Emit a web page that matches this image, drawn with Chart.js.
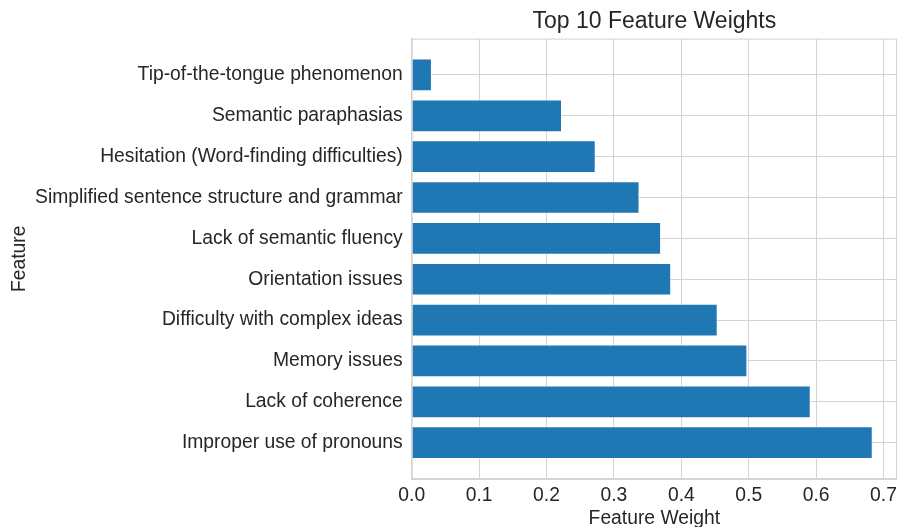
<!DOCTYPE html>
<html>
<head>
<meta charset="utf-8">
<script src="https://cdn.jsdelivr.net/npm/chart.js@4/dist/chart.umd.min.js"></script>
<style>
  html, body { margin: 0; padding: 0; background: #fff; }
  #wrap { width: 897px; height: 527px; }
</style>
</head>
<body>
<div id="wrap"><canvas id="chart" width="897" height="527"></canvas></div>
<script>
// features, bottom to top (matplotlib barh order)
const features = [
    'Improper use of pronouns',
    'Lack of coherence',
    'Memory issues',
    'Difficulty with complex ideas',
    'Orientation issues',
    'Lack of semantic fluency',
    'Simplified sentence structure and grammar',
    'Hesitation (Word-finding difficulties)',
    'Semantic paraphasias',
    'Tip-of-the-tongue phenomenon'
];
const weights = [0.684, 0.592, 0.498, 0.454, 0.385, 0.370, 0.338, 0.273, 0.223, 0.030];
const xTicks = [0, 0.1, 0.2, 0.3, 0.4, 0.5, 0.6, 0.7];

const textColor = '#262626';
const gridColor = '#d3d3d3';
const fontFamily = '"Liberation Sans", Arial, sans-serif';

const points = weights.map((w, i) => ({ x: w, y: i }));

// frame around the plot area, like the seaborn whitegrid axes
const framePlugin = {
    id: 'frame',
    afterDraw(c) {
        const a = c.chartArea;
        const g = c.ctx;
        g.save();
        g.strokeStyle = gridColor;
        g.lineWidth = 1;
        g.strokeRect(a.left + 0.5, a.top + 0.5, a.right - a.left - 1, a.bottom - a.top - 1);
        g.restore();
    }
};

const ctx = document.getElementById('chart').getContext('2d');
const chart = new Chart(ctx, {
    type: 'bar',
    data: {
        datasets: [{
            label: 'Feature Weight',
            data: points,
            backgroundColor: '#1f77b4',
            borderColor: 'rgba(255,255,255,0.45)',
            borderWidth: 1,
            categoryPercentage: 0.8,
            barPercentage: 1.0
        }]
    },
    plugins: [framePlugin],
    options: {
        indexAxis: 'y',
        responsive: false,
        animation: false,
        layout: { padding: 0 },
        plugins: {
            legend: { display: false },
            tooltip: { enabled: false },
            title: {
                display: true,
                text: 'Top 10 Feature Weights',
                fullSize: false,
                color: textColor,
                font: { family: fontFamily, size: 23, weight: 'normal', lineHeight: 1.2 },
                padding: { top: 8, bottom: 3 }
            }
        },
        scales: {
            x: {
                type: 'linear',
                min: 0,
                max: 0.72,
                afterBuildTicks: axis => { axis.ticks = xTicks.map(v => ({ value: v })); },
                afterFit: axis => { axis.height = 48; axis.paddingRight = 0; axis.paddingLeft = 0; },
                grid: { color: gridColor, drawTicks: false },
                border: { color: gridColor },
                ticks: {
                    color: textColor,
                    padding: 5,
                    font: { family: fontFamily, size: 19.3 },
                    callback: v => v.toFixed(1),
                    maxRotation: 0
                },
                title: {
                    display: true,
                    text: 'Feature Weight',
                    color: textColor,
                    font: { family: fontFamily, size: 19.3, lineHeight: 1.2 },
                    padding: { top: 0, bottom: -3.5 }
                }
            },
            y: {
                type: 'linear',
                min: -0.89,
                max: 9.89,
                offset: false,
                afterBuildTicks: axis => { axis.ticks = features.map((_, i) => ({ value: i })); },
                afterFit: axis => { axis.width = 411.7; axis.paddingTop = 0; axis.paddingBottom = 0; },
                grid: { color: gridColor, drawTicks: false, offset: false },
                border: { color: gridColor },
                ticks: {
                    color: textColor,
                    padding: 9,
                    autoSkip: false,
                    font: { family: fontFamily, size: 19.3 },
                    callback: v => features[v]
                },
                title: {
                    display: true,
                    text: 'Feature',
                    color: textColor,
                    font: { family: fontFamily, size: 19.3, lineHeight: 1.2 },
                    padding: { top: 8.5, bottom: 0 }
                }
            }
        }
    }
});
</script>
</body>
</html>
